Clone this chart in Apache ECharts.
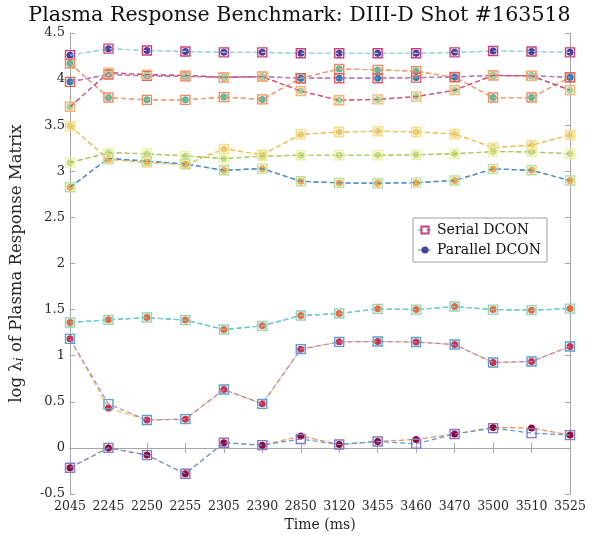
<!DOCTYPE html>
<html>
<head>
<meta charset="utf-8">
<script src="https://cdn.jsdelivr.net/npm/echarts@6/dist/echarts.min.js"></script>
<style>
html,body{margin:0;padding:0;background:#fff;}
#chart{width:599px;height:541px;}
</style>
</head>
<body>
<div id="chart"></div>
<script>
// ---- categories ----
const times = ['2045','2245','2250','2255','2305','2390','2850','3120','3455','3460','3470','3500','3510','3525'];
const yTicks = [-0.5, 0, 0.5, 1, 1.5, 2, 2.5, 3, 3.5, 4, 4.5];

// ---- Serial DCON (log eigenvalues, 10 modes) ----
const serial1  = [4.26, 4.33, 4.31, 4.30, 4.29, 4.29, 4.28, 4.28, 4.28, 4.28, 4.29, 4.305, 4.30, 4.29];
const serial2  = [4.17, 3.80, 3.775, 3.775, 3.805, 3.78, 4.01, 4.11, 4.10, 4.085, 4.02, 3.80, 3.80, 4.02];
const serial3  = [3.97, 4.05, 4.035, 4.03, 4.02, 4.026, 4.01, 4.01, 4.01, 4.016, 4.023, 4.04, 4.035, 4.02];
const serial4  = [3.70, 4.07, 4.048, 4.04, 4.02, 4.026, 3.87, 3.77, 3.78, 3.81, 3.88, 4.04, 4.035, 3.88];
const serial5  = [3.49, 3.13, 3.094, 3.072, 3.243, 3.18, 3.40, 3.427, 3.434, 3.427, 3.405, 3.257, 3.283, 3.394];
const serial6  = [3.094, 3.203, 3.19, 3.167, 3.137, 3.165, 3.174, 3.174, 3.174, 3.18, 3.19, 3.214, 3.21, 3.19];
const serial7  = [2.827, 3.14, 3.11, 3.08, 3.011, 3.029, 2.892, 2.874, 2.87, 2.877, 2.90, 3.026, 3.011, 2.90];
const serial8  = [1.36, 1.389, 1.414, 1.386, 1.284, 1.324, 1.436, 1.457, 1.508, 1.50, 1.533, 1.50, 1.494, 1.511];
const serial9  = [1.183, 0.475, 0.302, 0.312, 0.633, 0.478, 1.071, 1.15, 1.154, 1.148, 1.121, 0.926, 0.937, 1.10];
const serial10 = [-0.215, 0.0, -0.078, -0.28, 0.056, 0.03, 0.096, 0.037, 0.07, 0.045, 0.15, 0.215, 0.16, 0.139];

// ---- Parallel DCON ----
const parallel1  = [4.26, 4.33, 4.31, 4.30, 4.29, 4.29, 4.28, 4.28, 4.28, 4.28, 4.29, 4.305, 4.30, 4.29];
const parallel2  = [4.17, 3.80, 3.775, 3.775, 3.805, 3.78, 4.01, 4.11, 4.10, 4.085, 4.02, 3.80, 3.80, 4.02];
const parallel3  = [3.97, 4.05, 4.035, 4.03, 4.02, 4.026, 4.01, 4.01, 4.01, 4.016, 4.023, 4.04, 4.035, 4.02];
const parallel4  = [3.70, 4.07, 4.048, 4.04, 4.02, 4.026, 3.87, 3.77, 3.78, 3.81, 3.88, 4.04, 4.035, 3.88];
const parallel5  = [3.49, 3.13, 3.094, 3.072, 3.243, 3.18, 3.40, 3.427, 3.434, 3.427, 3.405, 3.257, 3.283, 3.394];
const parallel6  = [3.094, 3.203, 3.19, 3.167, 3.137, 3.165, 3.174, 3.174, 3.174, 3.18, 3.19, 3.214, 3.21, 3.19];
const parallel7  = [2.827, 3.14, 3.11, 3.08, 3.011, 3.029, 2.892, 2.874, 2.87, 2.877, 2.90, 3.026, 3.011, 2.90];
const parallel8  = [1.36, 1.389, 1.414, 1.386, 1.284, 1.324, 1.436, 1.457, 1.508, 1.50, 1.533, 1.50, 1.494, 1.511];
const parallel9  = [1.183, 0.432, 0.302, 0.312, 0.633, 0.478, 1.071, 1.15, 1.154, 1.148, 1.121, 0.926, 0.937, 1.10];
const parallel10 = [-0.215, 0.0, -0.078, -0.28, 0.056, 0.03, 0.128, 0.037, 0.07, 0.092, 0.15, 0.222, 0.215, 0.139];

// ---- styles ----
const serialSets   = [serial1, serial2, serial3, serial4, serial5, serial6, serial7, serial8, serial9, serial10];
const parallelSets = [parallel1, parallel2, parallel3, parallel4, parallel5, parallel6, parallel7, parallel8, parallel9, parallel10];
const squareColors = ['#c8407a','#f08a60','#e8605a','#f8b070','#f5dc84','#eef0a0','#b8e0a0','#90d4b8','#5aa0d0','#8878c8'];
const circleColors = ['#4b3f9a','#5fb89a','#2a7fb5','#a6d49a','#e6d27c','#c9dc8e','#eea84e','#e66b3a','#c8344a','#94083a'];
const serialLine   = ['#8fd3ef','#f0a070','#b878c8','#c85070','#f4b850','#a0c860','#4a8cc8','#70cce0','#b080d0','#5a9ad8'];
const parallelLine = ['#9fd69a','#e88050','#d06080','#e07080','#f0d070','#c0d070','#5090d0','#40b0a0','#f4c050','#f08850'];

const FONT = 'DejaVu Serif';
const axisGray = '#a6a6a6';
const textColor = '#262626';

const series = [];
parallelSets.forEach((d, i) => {
  series.push({
    name: 'Parallel DCON', type: 'line', data: d, z: 2,
    symbol: 'circle', symbolSize: 7,
    lineStyle: { color: parallelLine[i], width: 1.2, type: [5, 3] },
    itemStyle: { color: circleColors[i], borderWidth: 0 },
    emphasis: { disabled: true }
  });
});
serialSets.forEach((d, i) => {
  series.push({
    name: 'Serial DCON', type: 'line', data: d, z: 3,
    symbol: 'rect', symbolSize: 9,
    lineStyle: { color: serialLine[i], width: 1.2, type: [5, 3] },
    itemStyle: { color: 'rgba(255,255,255,0)', borderColor: squareColors[i], borderWidth: 1.4 },
    emphasis: { disabled: true }
  });
});

const chart = echarts.init(document.getElementById('chart'), null, { renderer: 'canvas' });
const tickStyle = { show: true, inside: true, length: 5, lineStyle: { color: axisGray, width: 1 } };
chart.setOption({
  animation: false,
  backgroundColor: '#fff',
  title: {
    text: 'Plasma Response Benchmark: DIII-D Shot #163518',
    left: 'center', top: 0,
    textStyle: { fontFamily: FONT, fontWeight: 'normal', fontSize: 20.6, color: '#111' }
  },
  legend: {
    data: ['Serial DCON', 'Parallel DCON'],
    orient: 'vertical', left: 413, top: 218,
    backgroundColor: '#fff', borderColor: '#a0a0a0', borderWidth: 1,
    padding: [5, 6, 5, 4], itemGap: 6, itemWidth: 14, itemHeight: 9,
    textStyle: { fontFamily: FONT, fontSize: 14, color: '#111' }
  },
  grid: { left: 65, right: 29, top: 33, bottom: 47, containLabel: false },
  xAxis: [{
    type: 'category', data: times, boundaryGap: false,
    name: 'Time (ms)', nameLocation: 'middle', nameGap: 24,
    nameTextStyle: { fontFamily: FONT, fontSize: 14, color: textColor },
    axisLine: { lineStyle: { color: axisGray } },
    axisTick: tickStyle,
    axisLabel: { fontFamily: FONT, fontSize: 12.5, color: textColor, margin: 6, interval: 0 },
    splitLine: { show: false }
  }, {
    type: 'category', data: times, boundaryGap: false, position: 'top',
    axisLine: { lineStyle: { color: axisGray } },
    axisTick: tickStyle, axisLabel: { show: false }, splitLine: { show: false }
  }],
  yAxis: [{
    type: 'value', min: yTicks[0], max: yTicks[yTicks.length - 1], interval: 0.5,
    name: '{n|log λ}{s|i}{n| of Plasma Response Matrix}',
    nameLocation: 'middle', nameGap: 44, nameRotate: 90,
    nameTextStyle: {
      rich: {
        n: { fontFamily: FONT, fontSize: 16.5, color: textColor },
        s: { fontFamily: FONT, fontSize: 12, fontStyle: 'italic', color: textColor, verticalAlign: 'bottom', padding: [7, 0, 0, 0] }
      }
    },
    axisLine: { show: true, lineStyle: { color: axisGray } },
    axisTick: tickStyle,
    axisLabel: { fontFamily: FONT, fontSize: 13, color: textColor, margin: 5 },
    splitLine: { show: false }
  }, {
    type: 'value', min: yTicks[0], max: yTicks[yTicks.length - 1], interval: 0.5, position: 'right',
    axisLine: { show: true, lineStyle: { color: axisGray } },
    axisTick: tickStyle, axisLabel: { show: false }, splitLine: { show: false }
  }],
  series: series
});
</script>
</body>
</html>
